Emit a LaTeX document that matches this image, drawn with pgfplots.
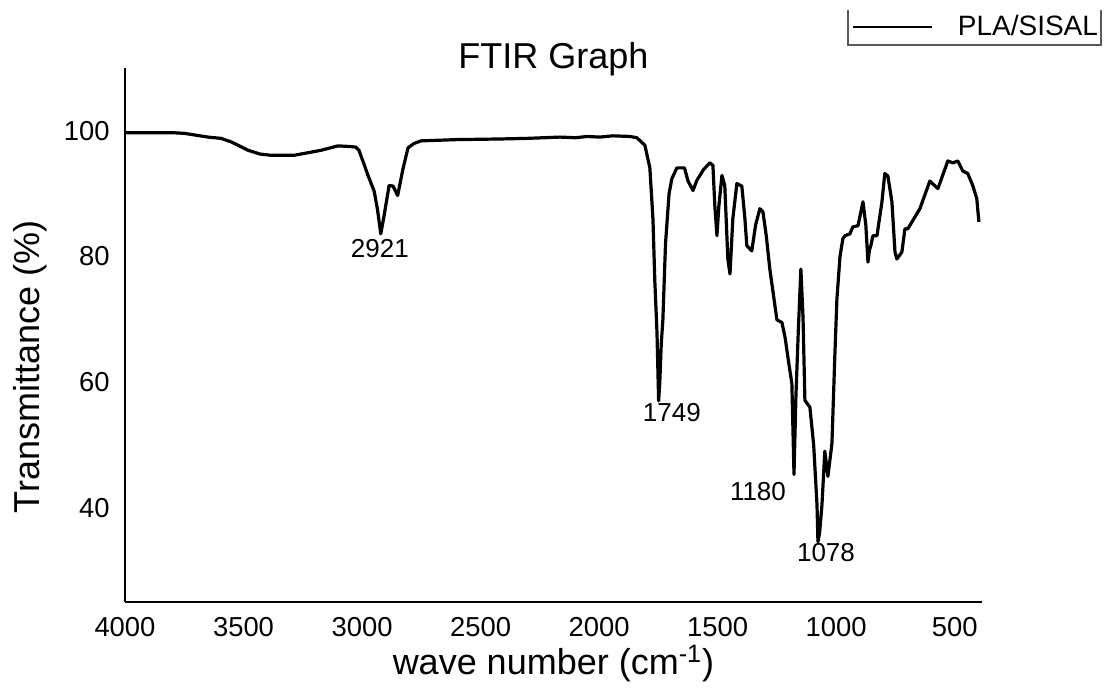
\documentclass[border=0pt]{standalone}
\usepackage{fontspec}
\setmainfont{Liberation Sans}
\usepackage{pgfplots}
\pgfplotsset{compat=1.18}

\begin{document}
\begin{tikzpicture}
\begin{axis}[
  at={(0,0)}, anchor=south west,
  scale only axis, width=428.5pt, height=267pt,
  x dir=reverse, xmin=385, xmax=4000, ymin=25, ymax=110,
  axis x line*=bottom, axis y line*=left,
  axis line style={line width=1pt, -},
  xtick={500,1000,...,4000}, ytick={40,60,80,100},
  major tick length=0pt,
  /pgf/number format/assume math mode=true,
  /pgf/number format/1000 sep={},
  xticklabel style={font=\fontsize{13.7}{16}\selectfont, anchor=north, inner sep=0pt, yshift=-7.5pt},
  yticklabel style={font=\fontsize{13.7}{16}\selectfont, anchor=east, inner sep=0pt, xshift=-7.5pt},
  xlabel={wave number (cm\textsuperscript{-1})},
  xlabel style={font=\fontsize{18}{21}\selectfont, at={(axis description cs:0.5,0)}, anchor=base, yshift=-36.5pt, inner sep=0pt},
  ylabel={Transmittance (\%)},
  ylabel style={font=\fontsize{18}{21}\selectfont, at={(axis description cs:-0.1109,0.44)}, anchor=center, inner sep=0pt},
  title={FTIR Graph},
  title style={font=\fontsize{18}{21}\selectfont, at={(axis description cs:0.5,1)}, anchor=base, yshift=-6.5pt, inner sep=0pt},
  clip=false,
  legend style={draw=none, fill=none, at={(axis description cs:0.8483,1.0768)}, anchor=west,
    inner sep=0pt, outer sep=0pt,
    nodes={inner sep=0pt, font=\fontsize{14}{16}\selectfont}},
  legend image code/.code={\draw[#1, line width=1.3pt] (0pt,0pt) -- (39.5pt,0pt); \path (51.5pt,0pt);},
]
\addplot[black, line width=1.6pt, line join=round] coordinates {
(4000,99.7) (3900,99.7) (3800,99.7) (3750,99.6) (3700,99.3) (3650,99.0)
(3595,98.8) (3550,98.2) (3481,96.9) (3430,96.3) (3384,96.1) (3287,96.1)
(3230,96.5) (3173,96.9) (3102,97.6) (3050,97.5) (3026,97.4) (3013,96.9)
(2990,94.5) (2975,92.9) (2949,90.4) (2935,87.5) (2921,83.6) (2907,86.5)
(2886,91.3) (2869,91.2) (2850,89.7) (2827,94.0) (2806,97.3) (2780,98.0)
(2751,98.4) (2600,98.6) (2418,98.7) (2300,98.8) (2165,99.0) (2100,98.9)
(2050,99.1) (1997,99.0) (1942,99.2) (1870,99.1) (1841,98.9) (1807,97.7)
(1786,94.1) (1773,86) (1765,76) (1756,68) (1749,57.0) (1744,60)
(1738,66) (1731,70) (1720,82) (1705,90) (1693,92.4) (1672,94.1)
(1640,94.1) (1625,92) (1604,90.5) (1588,92.1) (1560,93.8) (1533,94.9)
(1520,94.5) (1512,88.1) (1503,83.3) (1495,88) (1482,92.9) (1470,91.3)
(1457,79.6) (1448,77.2) (1436,86) (1419,91.6) (1398,91.2) (1385,86)
(1377,81.7) (1356,80.9) (1340,85) (1322,87.6) (1309,87.1) (1295,83.3)
(1280,78) (1250,69.9) (1229,69.5) (1216,67.2) (1200,63) (1187,59.8)
(1178,45.3) (1170,57.6) (1160,68) (1149,78.0) (1140,70.4) (1132,57.1)
(1111,56.0) (1095,50) (1081,40.5) (1077,34.6) (1070,36) (1060,40.5)
(1048,49.0) (1035,45.0) (1018,50.2) (1005,65) (997,73.2) (984,80)
(972,82.8) (963,83.3) (942,83.6) (930,84.7) (908,84.9) (887,88.7)
(875,85) (866,79.1) (860,81) (854,81.7) (845,83.3) (828,83.3)
(807,88.7) (795,93.2) (782,92.8) (765,88.7) (752,80.7) (744,79.6)
(723,80.7) (710,84.4) (698,84.4) (647,87.6) (605,92) (571,90.8)
(529,95.2) (508,94.9) (487,95.2) (466,93.6) (445,93.2) (424,91.3)
(407,89.2) (398,85.5)
};
\addlegendentry{PLA/SISAL}
\node[font=\fontsize{13}{15}\selectfont] at (axis cs:2925,81.3) {2921};
\node[font=\fontsize{13}{15}\selectfont] at (axis cs:1693,55.1) {1749};
\node[font=\fontsize{13}{15}\selectfont] at (axis cs:1330,42.5) {1180};
\node[font=\fontsize{13}{15}\selectfont] at (axis cs:1043,32.8) {1078};
\end{axis}
\draw[black!65, line width=0.8pt] (361.5pt,296pt) -- (361.5pt,278.5pt) -- (488pt,278.5pt) -- (488pt,296pt);
\pgfresetboundingbox
\path[use as bounding box] (-62.5pt,-43.5pt) rectangle (490pt,301pt);
\end{tikzpicture}
\end{document}
